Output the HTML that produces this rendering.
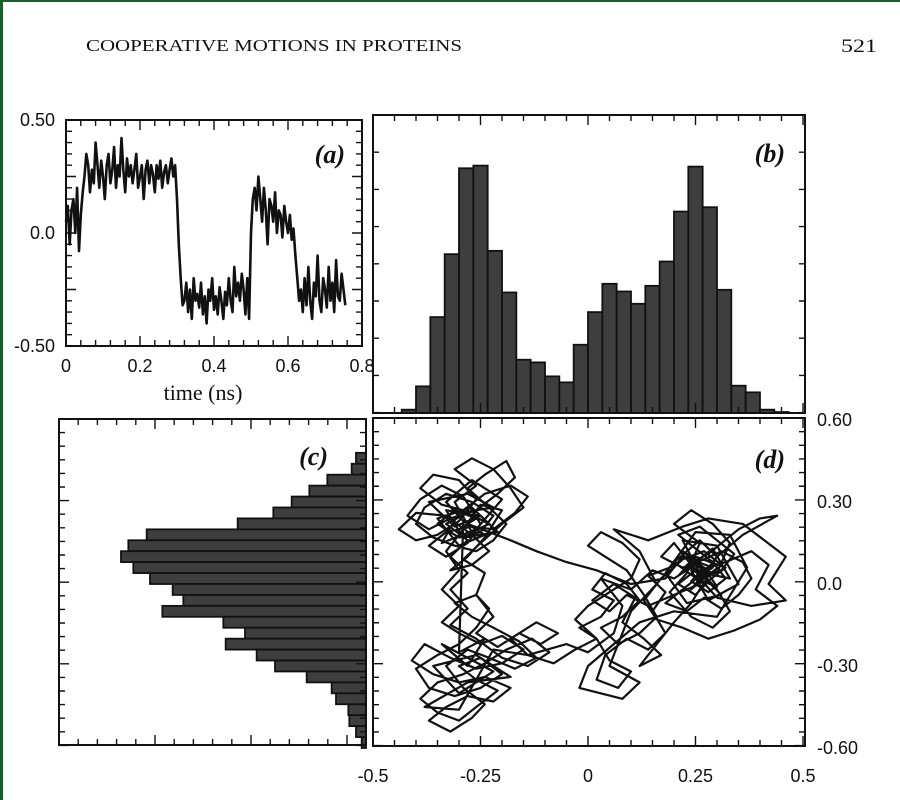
<!DOCTYPE html>
<html><head><meta charset="utf-8"><style>
html,body{margin:0;padding:0;background:#fff;}
svg{display:block;}
.tk{font-family:"Liberation Sans",sans-serif;font-size:18px;fill:#111;}
.pl{font-family:"Liberation Serif",serif;font-style:italic;font-weight:bold;font-size:26px;fill:#111;}
</style></head><body>
<svg id="fig" width="900" height="800" viewBox="0 0 900 800" xmlns="http://www.w3.org/2000/svg">
<rect x="0" y="0" width="900" height="800" fill="#fff"/>
<rect x="0" y="0" width="3" height="800" fill="#17602c"/>
<rect x="0" y="0" width="900" height="2" fill="#17602c"/>
<text x="86" y="51" textLength="376" lengthAdjust="spacingAndGlyphs" font-family="Liberation Serif,serif" font-size="17" fill="#111">COOPERATIVE MOTIONS IN PROTEINS</text>
<text x="841" y="52" textLength="36" lengthAdjust="spacingAndGlyphs" font-family="Liberation Serif,serif" font-size="19" fill="#111">521</text>
<g id="ga"></g>
<g id="gb"></g>
<g id="gc"></g>
<g id="gd"></g>
</svg>
<script>
// Panel (a) time series, dt = 0.005 ns
const seriesA = [0.05,0.12,-0.05,0.1,0.15,0.0,0.2,-0.08,0.08,0.18,
0.25,0.35,0.3,0.18,0.28,0.22,0.4,0.3,0.2,0.32,0.25,0.15,0.3,0.35,0.22,0.28,0.38,0.2,0.3,0.25,0.42,0.28,0.18,0.33,0.25,0.3,0.22,0.28,0.35,0.2,0.25,0.3,0.15,0.28,0.32,0.22,0.3,0.26,0.18,0.3,0.24,0.32,0.2,0.27,0.3,0.22,0.28,0.33,0.25,0.3,
0.15,-0.05,-0.2,-0.32,
-0.3,-0.22,-0.35,-0.25,-0.38,-0.2,-0.3,-0.27,-0.33,-0.22,-0.36,-0.28,-0.4,-0.25,-0.3,-0.2,-0.34,-0.28,-0.36,-0.24,-0.3,-0.38,-0.26,-0.32,-0.2,-0.3,-0.35,-0.15,-0.28,-0.22,-0.3,-0.18,-0.25,-0.36,-0.2,-0.38,
0.0,0.15,0.2,0.1,0.25,0.15,0.05,0.2,0.1,-0.05,0.15,0.12,0.05,0.18,0.0,0.1,0.08,-0.02,0.12,0.05,0.0,0.08,-0.03,0.02,
-0.1,-0.2,-0.3,-0.25,-0.35,-0.2,-0.32,-0.15,-0.3,-0.38,-0.22,-0.28,-0.1,-0.3,-0.35,-0.2,-0.25,-0.33,-0.15,-0.3,-0.22,-0.35,-0.12,-0.28,-0.3,-0.18,-0.25,-0.32];
const timeStep = 0.005;
const ticksAX = ["0","0.2","0.4","0.6","0.8"];
const ticksAY = ["0.50","0.0","-0.50"];
// Panel (b) histogram of x
const binStartB = -0.4333;
const binWidthB = 0.03333;
const countsB = [10,80,288,477,735,743,487,362,160,152,110,92,205,303,388,365,328,382,455,605,740,618,370,82,62,10,3];
// Panel (c) histogram of y
const binTopC = 0.48;
const binWidthC = 0.04;
const countsC = [30,43,116,170,223,278,385,658,713,735,698,648,580,548,611,428,363,421,328,273,178,103,90,53,50,30,13];
// Panel (d) trajectory (x, y) pairs
const trajPoints = [
[-0.30,0.20],[-0.26,0.24],[-0.31,0.27],[-0.35,0.22],[-0.30,0.17],[-0.25,0.19],[-0.22,0.25],[-0.27,0.30],[-0.33,0.33],[-0.38,0.28],[-0.40,0.22],[-0.36,0.17],[-0.31,0.14],[-0.26,0.12],[-0.22,0.16],[-0.19,0.22],[-0.23,0.28],[-0.28,0.35],[-0.24,0.40],[-0.19,0.45],[-0.17,0.39],[-0.21,0.33],[-0.26,0.27],[-0.32,0.24],[-0.37,0.20],[-0.42,0.25],[-0.39,0.31],[-0.34,0.36],[-0.29,0.32],[-0.25,0.22],[-0.28,0.15],[-0.33,0.10],[-0.37,0.14],[-0.33,0.19],[-0.27,0.21],[-0.22,0.20],[-0.17,0.26],[-0.14,0.32],[-0.18,0.36],[-0.24,0.33],[-0.29,0.27],[-0.34,0.29],[-0.39,0.35],[-0.36,0.40],[-0.30,0.38],[-0.26,0.31],[-0.30,0.23],[-0.35,0.18],[-0.40,0.16],[-0.44,0.20],[-0.40,0.26],[-0.33,0.25],[-0.27,0.18],[-0.23,0.12],[-0.27,0.07],[-0.32,0.05],[-0.28,0.10],[-0.24,0.17],[-0.20,0.27],[-0.25,0.29],
[-0.29,0.20],[-0.33,0.12],[-0.30,0.05],[-0.34,-0.02],[-0.30,-0.08],[-0.34,-0.14],
[-0.30,-0.18],[-0.25,-0.22],[-0.20,-0.19],[-0.15,-0.24],[-0.20,-0.29],[-0.26,-0.31],[-0.32,-0.27],[-0.38,-0.22],[-0.41,-0.28],[-0.36,-0.33],[-0.30,-0.36],[-0.24,-0.34],[-0.18,-0.38],[-0.22,-0.43],[-0.28,-0.41],[-0.33,-0.45],[-0.37,-0.50],[-0.32,-0.54],[-0.27,-0.49],[-0.24,-0.44],[-0.29,-0.38],[-0.33,-0.30],[-0.28,-0.24],[-0.23,-0.27],[-0.17,-0.31],[-0.12,-0.27],[-0.16,-0.21],[-0.22,-0.16],[-0.27,-0.12],[-0.31,-0.07],[-0.26,-0.04],[-0.23,-0.09],[-0.26,-0.16],[-0.30,-0.22],[-0.35,-0.26],[-0.40,-0.31],[-0.37,-0.38],[-0.31,-0.41],[-0.25,-0.38],[-0.20,-0.33],[-0.25,-0.27],[-0.30,-0.30],[-0.26,-0.35],[-0.21,-0.39],[-0.26,-0.45],[-0.30,-0.50],[-0.35,-0.47],[-0.39,-0.42],[-0.35,-0.36],[-0.29,-0.33],[-0.24,-0.29],[-0.19,-0.24],[-0.13,-0.20],[-0.09,-0.25],[-0.14,-0.30],[-0.20,-0.27],[-0.26,-0.20],[-0.32,-0.15],[-0.28,-0.09],[-0.32,-0.02],
[-0.28,0.04],[-0.32,0.10],[-0.28,0.16],[-0.33,0.22],[-0.28,0.26],[-0.23,0.22],[-0.27,0.19],[-0.31,0.30],[-0.26,0.36],[-0.31,0.42],[-0.27,0.46],[-0.22,0.42],[-0.18,0.35],[-0.15,0.28],[-0.20,0.22],[-0.25,0.15],[-0.29,0.09],[-0.24,0.04],[-0.26,-0.04],
[-0.22,-0.12],[-0.26,-0.18],[-0.21,-0.23],[-0.16,-0.18],[-0.11,-0.22],[-0.07,-0.18],[-0.12,-0.14],[-0.18,-0.20],[-0.14,-0.26],[-0.08,-0.29],[-0.03,-0.24],[0.02,-0.20],[-0.02,-0.16],[0.03,-0.12],
[0.06,-0.06],[0.01,-0.02],[0.04,0.04],[0.09,0.00],[0.12,-0.06],[0.08,-0.12],[0.03,-0.16],[0.07,-0.22],[0.12,-0.18],[0.16,-0.12],[0.13,-0.04],[0.09,0.05],[0.04,0.10],[0.00,0.14],[0.03,0.19],[0.08,0.15],[0.12,0.09],[0.10,0.02],[0.05,-0.03],[0.00,-0.08],[-0.03,-0.13],[0.02,-0.20],[0.05,-0.28],[0.10,-0.32],[0.07,-0.38],[0.02,-0.35],[0.04,-0.26],[0.09,-0.20],[0.14,-0.24],[0.18,-0.18],[0.15,-0.10],[0.18,-0.03],[0.14,0.03],
[0.19,0.06],[0.23,0.10],[0.27,0.06],[0.24,0.01],[0.28,-0.03],[0.32,0.02],[0.29,0.08],[0.25,0.13],[0.21,0.18],[0.26,0.21],[0.30,0.16],[0.34,0.11],[0.31,0.05],[0.26,0.03],[0.22,-0.02],[0.18,-0.07],[0.23,-0.10],[0.27,-0.05],[0.31,-0.09],[0.35,-0.04],[0.38,0.02],[0.36,0.08],[0.31,0.12],[0.27,0.09],[0.22,0.06],[0.17,0.10],[0.20,0.15],[0.24,0.07],[0.28,0.01],[0.25,-0.04],[0.21,0.00],[0.25,0.05],[0.30,0.04],[0.33,0.15],[0.29,0.22],[0.24,0.27],[0.20,0.22],[0.26,0.15],[0.23,0.04],[0.19,-0.03],[0.24,-0.12],[0.29,-0.16],[0.33,-0.10],[0.30,-0.02],[0.26,0.05],[0.32,0.08],[0.38,0.12],[0.42,0.07],[0.39,-0.02],[0.44,-0.08],[0.40,-0.13],[0.34,-0.17],[0.28,-0.20],[0.22,-0.16],[0.16,-0.13],[0.13,-0.06],[0.17,0.02],[0.22,0.09],[0.27,0.12],[0.31,0.07],[0.27,0.02],[0.23,0.07],[0.28,0.11],[0.35,0.20],[0.40,0.24],[0.44,0.25],[0.36,0.18],[0.30,0.10],[0.26,0.00],[0.20,-0.04],
[0.14,-0.08],[0.09,-0.04],[0.05,-0.10],[0.01,-0.06],[0.06,0.00],[0.11,-0.05],[0.08,-0.14],[0.13,-0.20],[0.17,-0.26],[0.12,-0.30],[0.16,-0.22],[0.20,-0.14],[0.24,-0.07],[0.28,0.03],[0.24,0.09],[0.29,0.06],[0.25,0.02],[0.30,-0.01],[0.27,0.06],
[0.22,0.10],[0.18,0.02],[0.10,0.00],[0.02,0.05],[-0.05,0.08],[-0.12,0.12],[-0.18,0.16],
[-0.28,0.22],[-0.24,0.18],[-0.30,0.14],[-0.35,0.24],[-0.27,0.28],[-0.21,0.19],[-0.29,0.17],[-0.33,0.27],[-0.25,0.25],[-0.31,0.21],[-0.37,0.30],[-0.28,0.33],[-0.22,0.28],[-0.30,0.26],[-0.34,0.15],[-0.26,0.20],[-0.20,0.31],[-0.27,0.38],[-0.33,0.30],[-0.29,0.23],
[-0.30,-0.25],[-0.24,-0.20],[-0.28,-0.30],[-0.34,-0.22],[-0.22,-0.32],[-0.30,-0.40],[-0.36,-0.30],[-0.26,-0.26],[-0.18,-0.34],[-0.28,-0.36],[-0.38,-0.45],[-0.30,-0.46],[-0.22,-0.24],[-0.14,-0.26],[-0.05,-0.22],[0.00,-0.25],[0.06,-0.18],
[0.08,-0.08],[0.03,0.02],[0.10,-0.02],[0.15,0.05],[0.20,0.02],[0.26,0.08],[0.22,0.12],[0.28,0.04],[0.24,-0.02],[0.30,0.10],[0.26,0.16],[0.20,0.08],[0.27,0.00],[0.32,0.06],[0.25,0.10],[0.21,0.03],[0.29,0.13],[0.33,0.02],[0.24,0.05],[0.28,-0.06],[0.35,0.00],[0.30,0.14],[0.22,0.16],[0.26,0.04],[0.31,-0.04],[0.23,-0.07],[0.18,0.04],[0.25,0.19],[0.33,0.18],[0.37,0.06],[0.30,-0.12],[0.20,-0.10],[0.12,-0.14],[0.06,-0.22],[0.00,-0.30],[-0.02,-0.38],[0.08,-0.42],[0.12,-0.36],[0.05,-0.30],[0.10,-0.10],[0.16,0.00],[0.12,0.12],[0.06,0.20],[0.14,0.16],[0.22,0.21],[0.28,0.24],[0.36,0.22],[0.41,0.16],[0.46,0.10],[0.42,0.00],[0.46,-0.06],[0.38,-0.08],[0.30,-0.05],[0.26,0.02]];
const trajX = trajPoints.map(p=>p[0]);
const trajY = trajPoints.map(p=>p[1]);
const ticksDX = ["-0.5","-0.25","0","0.25","0.5"];
const ticksDXv = [-0.5,-0.25,0,0.25,0.5];
const ticksDY = ["0.60","0.30","0.0","-0.30","-0.60"];
const ticksDYv = [0.6,0.3,0,-0.3,-0.6];

const NS="http://www.w3.org/2000/svg";
function mk(tag,attrs,parent){const e=document.createElementNS(NS,tag);for(const k in attrs)e.setAttribute(k,attrs[k]);parent.appendChild(e);return e;}
function frame(g,x0,y0,x1,y1,hStep,hMajor,vStep,vMajor){
  const r=mk('rect',{x:x0,y:y0,width:x1-x0,height:y1-y0,fill:'none',stroke:'#111','stroke-width':2},g);
  
  
  let d='';
  let i=0;
  for(let x=x0;x<=x1+0.5;x+=hStep,i++){const L=(i%hMajor===0)?10:6;d+=`M${x},${y0}v${L}M${x},${y1}v${-L}`;}
  i=0;
  for(let y=y0;y<=y1+0.5;y+=vStep,i++){const L=(i%vMajor===0)?10:6;d+=`M${x0},${y}h${L}M${x1},${y}h${-L}`;}
  const t=mk('path',{d:d,stroke:'#111','stroke-width':1.4,fill:'none'},g);
  
  
}
function txt(g,x,y,s,cls,anchor,name){const t=mk('text',{x:x,y:y,class:cls,'text-anchor':anchor||'middle'},g);t.textContent=s;
  
  
  return t;}

// ---- Panel A
const ga=document.getElementById('ga');
const xA=t=>66+t/0.8*296, yA=v=>233-v*226;
let pa='';
seriesA.forEach((v,i)=>{pa+=(i?'L':'M')+xA(i*timeStep).toFixed(1)+','+yA(v).toFixed(1);});
const la=mk('path',{d:pa,fill:'none',stroke:'#111','stroke-width':2.6,'stroke-linejoin':'round'},ga);


frame(ga,66,120,362,346,14.8,5,11.3,5);
ticksAX.forEach((s,i)=>txt(ga,xA(parseFloat(s)),372,s,'tk','middle','x-tick-label'));
[0.5,0,-0.5].forEach((v,i)=>txt(ga,55,yA(v)+6,ticksAY[i],'tk','end','y-tick-label'));
const tl=txt(ga,203,400,'time (ns)','tk','middle','x-axis-title');
tl.setAttribute('style','font-family:"Liberation Serif",serif;font-size:22px;');
txt(ga,345,163,'(a)','pl','end','panel-label-a');

// ---- Panel B
const gb=document.getElementById('gb');
const xB=v=>588+v*430, yB=c=>413-c*(298/895);
countsB.forEach((c,i)=>{
  const x0=xB(binStartB+i*binWidthB), x1=xB(binStartB+(i+1)*binWidthB);
  const r=mk('rect',{x:x0,y:yB(c),width:x1-x0,height:413-yB(c),fill:'#3e3e3e',stroke:'#111','stroke-width':1.8},gb);
  
  
});
frame(gb,373,115,805,413,21.5,5,37.2,100);
txt(gb,785,162,'(b)','pl','end','panel-label-b');

// ---- Panel C
const gc=document.getElementById('gc');
const yC=v=>584-v*273.3, xC=c=>366-c/3;
countsC.forEach((c,i)=>{
  const y0=yC(binTopC-i*binWidthC), y1=yC(binTopC-(i+1)*binWidthC);
  const r=mk('rect',{x:xC(c),y:y0,width:366-xC(c),height:y1-y0,fill:'#3e3e3e',stroke:'#111','stroke-width':1.8},gc);
  
  
});
frame(gc,59,419,366,745,19.2,5,13.6,6);
txt(gc,328,465,'(c)','pl','end','panel-label-c');

// ---- Panel D
const gd=document.getElementById('gd');
const xD=v=>588+v*430, yD=v=>584-v*273.3;
let pd='';
trajX.forEach((x,i)=>{pd+=(i?'L':'M')+xD(x).toFixed(1)+','+yD(trajY[i]).toFixed(1);});
const ld=mk('path',{d:pd,fill:'none',stroke:'#111','stroke-width':2.2,'stroke-linejoin':'round'},gd);


frame(gd,373,418,805,746,21.5,5,13.65,6);
ticksDX.forEach((s,i)=>txt(gd,xD(ticksDXv[i]),782,s,'tk','middle','x-tick-label'));
ticksDY.forEach((s,i)=>txt(gd,817,yD(ticksDYv[i])+6,s,'tk','start','y-tick-label'));
txt(gd,785,468,'(d)','pl','end','panel-label-d');
</script>
</body></html>
